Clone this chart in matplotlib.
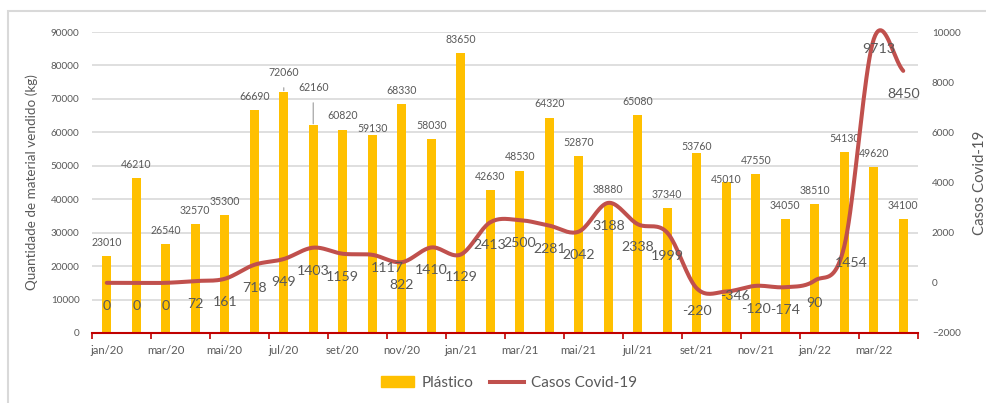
import numpy as np
import matplotlib
matplotlib.use("Agg")
from matplotlib import pyplot as plt
from matplotlib.patches import Rectangle
from matplotlib.lines import Line2D

plt.rcParams['font.family'] = ['Lato', 'DejaVu Sans']

# dados
meses = ['jan/20', 'fev/20', 'mar/20', 'abr/20', 'mai/20', 'jun/20', 'jul/20', 'ago/20',
         'set/20', 'out/20', 'nov/20', 'dez/20', 'jan/21', 'fev/21', 'mar/21', 'abr/21',
         'mai/21', 'jun/21', 'jul/21', 'ago/21', 'set/21', 'out/21', 'nov/21', 'dez/21',
         'jan/22', 'fev/22', 'mar/22', 'abr/22']
plastico = [23010, 46210, 26540, 32570, 35300, 66690, 72060, 62160, 60820, 59130,
            68330, 58030, 83650, 42630, 48530, 64320, 52870, 38880, 65080, 37340,
            53760, 45010, 47550, 34050, 38510, 54130, 49620, 34100]
covid = [0, 0, 0, 72, 161, 718, 949, 1403, 1159, 1117, 822, 1410, 1129, 2413,
         2500, 2281, 2042, 3188, 2338, 1999, -220, -346, -120, -174, 90, 1454,
         9713, 8450]

cor_barra = '#FFC000'
cor_linha = '#C0504D'
cinza = '#595959'

# ajustes manuais de rótulos (pontos)
ajuste_plastico = {6: (0, 4), 7: (0, 17), 9: (0, -5), 20: (0, -5), 21: (0, -8)}
ajuste_covid = {9: (11, 7), 21: (6.5, 13.5), 25: (5, 4.3), 26: (3.6, 9.4)}


def suavizar(y, n=20):
    # curva suave tipo Excel (Catmull-Rom)
    y = np.asarray(y, dtype=float)
    xs, ys = [], []
    for i in range(len(y) - 1):
        p0 = y[i - 1] if i > 0 else y[i]
        p3 = y[i + 2] if i + 2 < len(y) else y[i + 1]
        m0 = (y[i + 1] - p0) / (2 if i > 0 else 1)
        m1 = (p3 - y[i]) / (2 if i + 2 < len(y) else 1)
        t = np.linspace(0, 1, n, endpoint=False)
        h00 = 2 * t**3 - 3 * t**2 + 1
        h10 = t**3 - 2 * t**2 + t
        h01 = -2 * t**3 + 3 * t**2
        h11 = t**3 - t**2
        xs.extend(i + t)
        ys.extend(h00 * y[i] + h10 * m0 + h01 * y[i + 1] + h11 * m1)
    xs.append(len(y) - 1)
    ys.append(y[-1])
    return np.array(xs), np.array(ys)


fig = plt.figure(figsize=(9.87, 4.03), dpi=100)
ax = fig.add_axes([92 / 987, 70 / 403, 826 / 987, 301 / 403])
ax2 = ax.twinx()

x = np.arange(len(meses))
ax.bar(x, plastico, width=0.3, color=cor_barra, zorder=2)
ax.set_xlim(-0.5, len(meses) - 0.5)
ax.set_ylim(0, 90000)
ax.set_yticks(np.arange(0, 90001, 10000))
ax.grid(axis='y', color='#D9D9D9', lw=1.2, zorder=0)
ax.set_axisbelow(True)

for i, v in enumerate(plastico):
    dx, dy = ajuste_plastico.get(i, (0, 0))
    if i in (6, 7):
        ax.annotate(str(v), (i, v), xytext=(dx, 10 + dy), textcoords='offset points',
                    ha='center', va='center', fontsize=7.6, color=cinza,
                    arrowprops=dict(arrowstyle='-', color='#A6A6A6', lw=0.9,
                                    shrinkA=5, shrinkB=1))
    else:
        ax.annotate(str(v), (i, v), xytext=(dx, 10 + dy), textcoords='offset points',
                    ha='center', va='center', fontsize=7.6, color=cinza)

# linha covid
xs, ys = suavizar(covid)
ax2.plot(xs, ys, color=cor_linha, lw=2.9, solid_capstyle='round', clip_on=False, zorder=3)
ax2.set_ylim(-2000, 10000)
ax2.set_yticks(np.arange(-2000, 10001, 2000))
for i, v in enumerate(covid):
    dx, dy = ajuste_covid.get(i, (0, 0))
    ax2.annotate(str(v), (i, v), xytext=(dx, -16.5 + dy), textcoords='offset points',
                 ha='center', va='center', fontsize=10.2, color=cinza, zorder=4)

# eixos
for a in (ax, ax2):
    for s in ('top', 'left', 'right'):
        a.spines[s].set_visible(False)
ax.spines['bottom'].set_color('#C00000')
ax.spines['bottom'].set_linewidth(1.5)
ax2.spines['bottom'].set_visible(False)

ax.set_xticks(np.arange(-0.5, len(meses), 2))
ax.set_xticklabels([])
ax.set_xticks(x[::2], minor=True)
ax.set_xticklabels(meses[::2], minor=True)
ax.tick_params(axis='x', which='major', length=4, color='#C00000', width=1.2)
ax.tick_params(axis='x', which='minor', length=0, pad=9, labelsize=8.2, labelcolor=cinza)
ax.tick_params(axis='y', length=0, pad=9, labelsize=7.2, labelcolor=cinza)
ax2.tick_params(axis='y', length=0, pad=10, labelsize=7.2, labelcolor=cinza)

ax.set_ylabel('Quantidade de material vendido (kg)', fontsize=9.7, color=cinza, labelpad=9)
ax2.set_ylabel('Casos Covid-19', fontsize=10.8, color=cinza, labelpad=9)

handles = [Rectangle((0, 0), 1, 1, color=cor_barra),
           Line2D([0], [0], color=cor_linha, lw=2.9)]
fig.legend(handles, ['Plástico', 'Casos Covid-19'], loc='center', bbox_to_anchor=(509 / 987, 20 / 403),
           ncol=2, frameon=False, fontsize=11, labelcolor=cinza, handlelength=2.2,
           handletextpad=0.5, columnspacing=1.05)

# moldura do gráfico
fig.patches.append(Rectangle((8 / 987, -0.1), 1.2, 1.1 - 11 / 403, fill=False,
                             edgecolor='#D9D9D9', lw=1.5, transform=fig.transFigure))

fig.savefig('out.png', dpi=100)
